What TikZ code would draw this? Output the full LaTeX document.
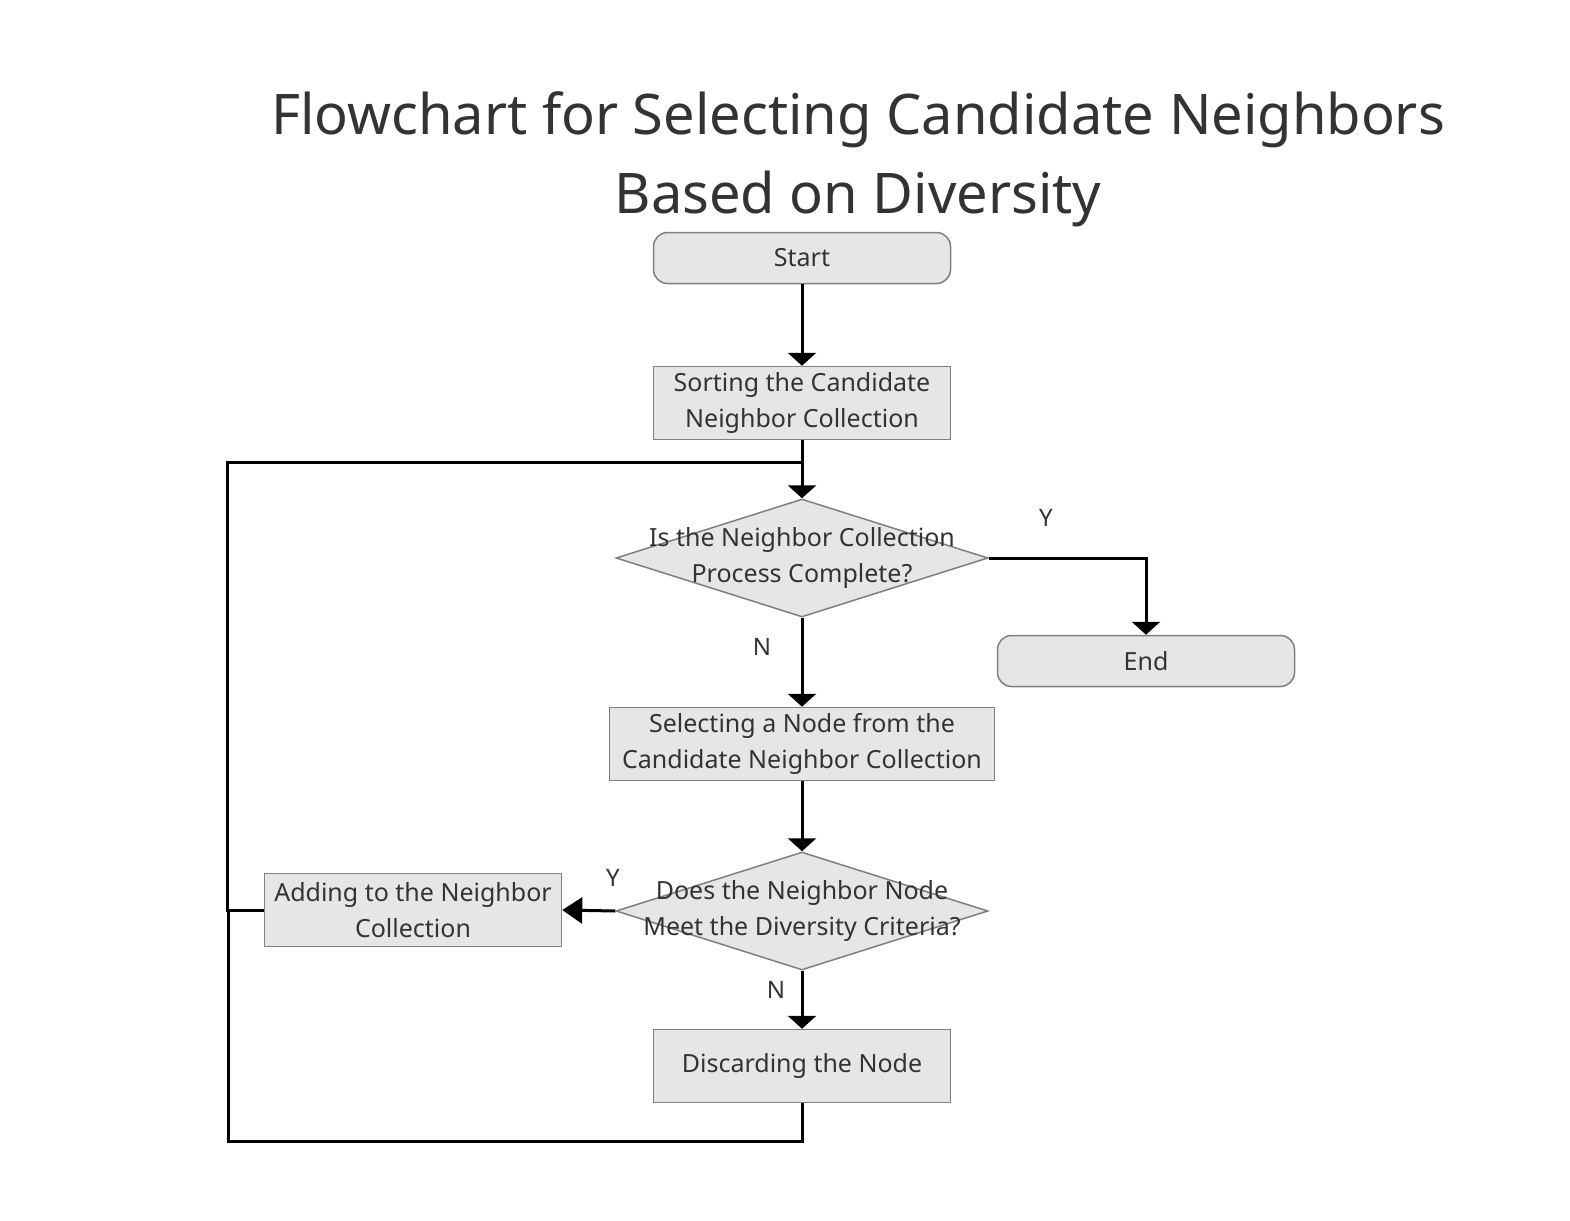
\documentclass[tikz,border=0pt]{standalone}
\usepackage{fontspec}
\setmainfont{Noto Sans}
\usetikzlibrary{arrows.meta,positioning,shapes.geometric}
\definecolor{boxfill}{HTML}{E6E6E6}
\definecolor{boxline}{HTML}{7F7F7F}
\definecolor{txt}{HTML}{333333}
\tikzset{
  procbox/.style={draw=boxline, fill=boxfill, line width=1.5pt, minimum width=297pt, minimum height=73pt, align=center, text=txt, font=\fontsize{25}{36}\selectfont, inner sep=2pt},
  termbox/.style={procbox, rounded corners=14pt, minimum height=51pt},
  testbox/.style={draw=boxline, fill=boxfill, line width=1.5pt, diamond, minimum width=372pt, minimum height=118pt, inner sep=0pt},
  testtext/.style={label={[align=center, text=txt, font=\fontsize{25}{36}\selectfont]center:#1}},
  flow/.style={line width=3pt, -{Triangle[length=13pt,width=28pt]}},
  sideflow/.style={line width=3pt, -{Triangle[length=20pt,width=26pt]}},
  loopline/.style={line width=3pt},
  lbl/.style={text=txt, font=\fontsize{24}{28}\selectfont}
}
\begin{document}
\begin{tikzpicture}[x=1pt,y=-1pt]
  \useasboundingbox (0,0) rectangle (1570,1220);
  % title
  \node[text=txt, font=\fontsize{56}{79}\selectfont, align=center] (title) at (858,159) {Flowchart for Selecting Candidate Neighbors\\Based on Diversity};
  % nodes
  \node[termbox] (start) at (802,258) {Start};
  \node[procbox] (sort) at (802,403) {Sorting the Candidate\\Neighbor Collection};
  \node[testbox, testtext={Is the Neighbor Collection\\Process Complete?}] (done) at (802,558) {};
  \node[termbox] (end) at (1146,661) {End};
  \node[procbox, minimum width=385pt] (pick) at (802,744) {Selecting a Node from the\\Candidate Neighbor Collection};
  \node[testbox, testtext={Does the Neighbor Node\\Meet the Diversity Criteria?}] (div) at (802,911) {};
  \node[procbox] (add) at (413,910) {Adding to the Neighbor\\Collection};
  \node[procbox] (drop) at (802,1066) {Discarding the Node};
  % loop corners
  \coordinate (join) at (802,462);
  \coordinate (back) at (802,1141);
  % connectors
  \draw[flow] (start) -- (sort);
  \draw[flow] (sort) -- (done);
  \draw[flow] (done.east) -| (end.north);
  \draw[flow] (done) -- (pick);
  \draw[flow] (pick) -- (div);
  \draw[sideflow] (div.west) -- (add.east);
  \draw[flow] (div) -- (drop);
  \draw[loopline] (add.west) -- ++(-36,0) |- (join);
  \draw[loopline] (drop.south) -- (back) -| (228,910);
  % labels
  \node[lbl] (ylbl1) at (1046,518) {Y};
  \node[lbl] (nlbl1) at (762,647) {N};
  \node[lbl] (ylbl2) at (613,878) {Y};
  \node[lbl] (nlbl2) at (776,990) {N};
\end{tikzpicture}
\end{document}
